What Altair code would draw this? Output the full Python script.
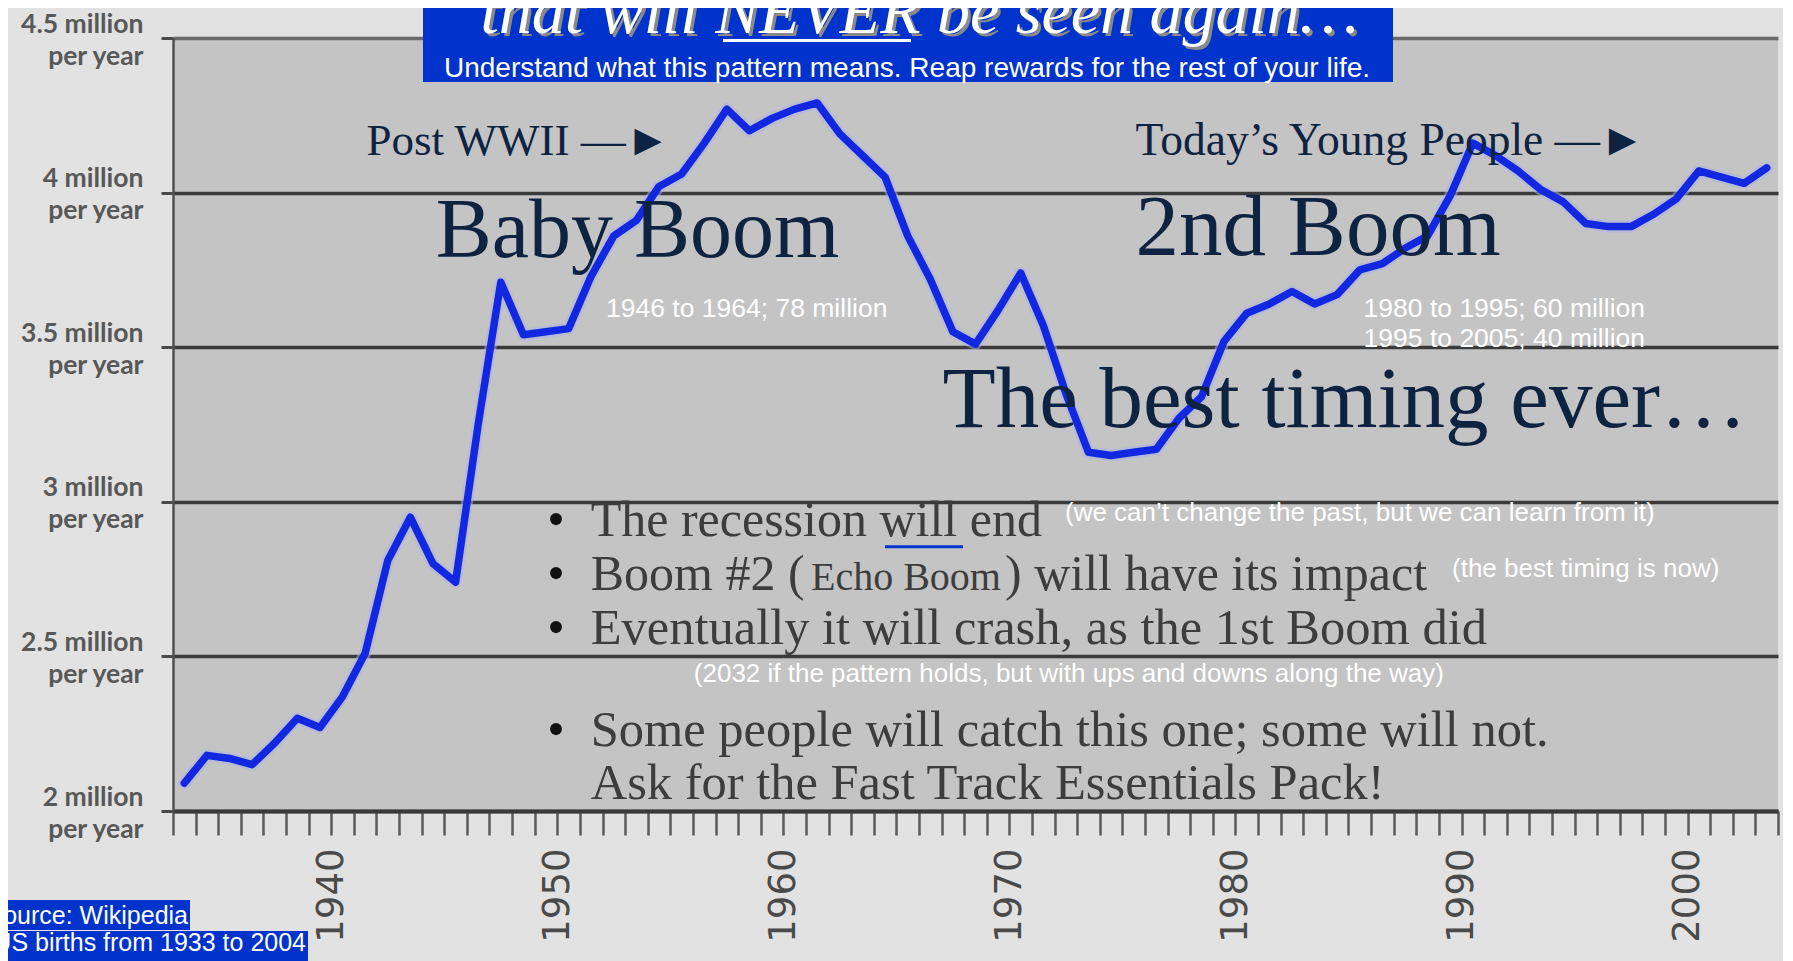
import altair as alt
import pandas as pd

# ---------------- data ----------------
years = list(range(1933, 2004))
births = [2.09, 2.18, 2.17, 2.15, 2.22, 2.30, 2.27, 2.37, 2.51, 2.81,
          2.95, 2.80, 2.74, 3.25, 3.71, 3.54, 3.55, 3.56, 3.73, 3.86,
          3.91, 4.02, 4.06, 4.16, 4.27, 4.20, 4.24, 4.27, 4.29, 4.19,
          4.12, 4.05, 3.86, 3.72, 3.55, 3.51, 3.62, 3.74, 3.57, 3.35,
          3.16, 3.15, 3.16, 3.17, 3.27, 3.34, 3.52, 3.61, 3.64, 3.68,
          3.64, 3.67, 3.75, 3.77, 3.82, 3.86, 3.99, 4.16, 4.12, 4.07,
          4.01, 3.97, 3.90, 3.89, 3.89, 3.93, 3.98, 4.07, 4.05, 4.03,
          4.08]
y_ticks = [2, 2.5, 3, 3.5, 4, 4.5]
x_ticks = list(range(1933, 2005))

title_main = "that will NEVER be seen again…"
title_sub = "Understand what this pattern means. Reap rewards for the rest of your life."
source_lines = ["Source: Wikipedia", "US births from 1933 to 2004"]

df = pd.DataFrame({"year": years, "births": births})
dummy = pd.DataFrame({"k": [0]})

NAVY = "#0e2342"
GREY_TXT = "#3d3d3d"
BLUE_BOX = "#0033cc"

X = alt.X("xpos:Q",
          scale=alt.Scale(domain=[1933, 2004], nice=False, zero=False),
          axis=alt.Axis(values=x_ticks,
                        labelExpr="datum.value % 10 == 0 ? toString(datum.value) : ''",
                        labelAngle=270, labelFont="DejaVu Sans", labelFontSize=37,
                        labelColor="#4a4a4a", labelPadding=13, labelOverlap=False,
                        labelFlush=False, tickSize=24, tickWidth=2.5,
                        tickColor="#5a5a5a", domainColor="#3a3a3a", domainWidth=4,
                        grid=False, title=None))
Y = alt.Y("births:Q",
          scale=alt.Scale(domain=[2, 4.5], nice=False, zero=False),
          axis=alt.Axis(values=y_ticks,
                        labelExpr="[datum.value + ' million', 'per year']",
                        labelFont="Lato", labelFontWeight="bold", labelFontSize=26.5,
                        labelColor="#585858", labelLineHeight=32, labelPadding=18,
                        labelBaseline="middle", labelOffset=-14,
                        tickSize=12, tickWidth=3, tickColor="#4a4a4a",
                        domainColor="#505050", domainWidth=2.5,
                        grid=True, gridWidth=3.5,
                        gridColor={"condition": {"test": "datum.value == 4.5", "value": "#6a6a6a"},
                                   "value": "#3a3a3a"},
                        title=None))

base = alt.Chart(df).transform_calculate(xpos="datum.year + 0.5").encode(x=X, y=Y)
halo = base.mark_line(color="#aab2ea", strokeWidth=12, opacity=0.5,
                      strokeCap="round", strokeJoin="round")
line = base.mark_line(color="#1228e0", strokeWidth=7.5,
                      strokeCap="round", strokeJoin="round")


def txt(s, x, y, size, color, font="Liberation Serif", align="left",
        style="normal", weight="normal"):
    return alt.Chart(dummy).mark_text(
        text=s, align=align, baseline="alphabetic", font=font, fontSize=size,
        color=color, fontStyle=style, fontWeight=weight
    ).encode(x=alt.value(x), y=alt.value(y))


def rect(x1, x2, y1, y2, color):
    return alt.Chart(dummy).mark_rect(color=color).encode(
        x=alt.value(x1), x2=alt.value(x2), y=alt.value(y1), y2=alt.value(y2))


def rule(x1, x2, y, color, w):
    return alt.Chart(dummy).mark_rule(color=color, strokeWidth=w).encode(
        x=alt.value(x1), x2=alt.value(x2), y=alt.value(y))


SANS = "Liberation Sans"
layers = [
    halo, line,
    # title box
    rect(250, 1220, -30, 44, BLUE_BOX),
    txt(title_main, 749.5, -2.5, 66, "#8a8a8a", align="center", style="italic"),
    txt(title_main, 746.5, -5.5, 66, "white", align="center", style="italic"),
    rule(550, 738, 2.5, "white", 3),
    txt(title_sub, 734, 39, 28, "white", font=SANS, align="center"),
    # headings
    txt("Post WWII —►", 193.5, 117, 45, NAVY),
    txt("Baby Boom", 262.7, 218.7, 84, NAVY),
    txt("1946 to 1964; 78 million", 433, 279, 26.5, "white", font=SANS),
    txt("Today’s Young People —►", 962.6, 117, 45.5, NAVY),
    txt("2nd Boom", 962.6, 217, 87, NAVY),
    txt("1980 to 1995; 60 million", 1190.6, 279.3, 26.5, "white", font=SANS),
    txt("1995 to 2005; 40 million", 1190.6, 309, 26.5, "white", font=SANS),
    txt("The best timing ever…", 769.5, 388.7, 87, NAVY),
    # bullets
    txt("•", 383, 498, 50, "#111111", align="center"),
    txt("The recession will end", 417.7, 498, 50, GREY_TXT),
    rule(712, 790, 508.8, BLUE_BOX, 3),
    txt("(we can’t change the past, but we can learn from it)", 892, 482.7, 26,
        "white", font=SANS),
    txt("•", 383, 552, 50, "#111111", align="center"),
    txt("Boom #2 (", 417.7, 552, 50, GREY_TXT),
    txt("Echo Boom", 638, 552, 40, GREY_TXT),
    txt(") will have its impact", 832, 552, 50, GREY_TXT),
    txt("(the best timing is now)", 1279, 538.6, 26, "white", font=SANS),
    txt("•", 383, 606.4, 50, "#111111", align="center"),
    txt("Eventually it will crash, as the 1st Boom did", 417.7, 606.4, 50.5, GREY_TXT),
    txt("(2032 if the pattern holds, but with ups and downs along the way)", 520.8, 643.7,
        26, "white", font=SANS),
    txt("•", 383, 708, 50, "#111111", align="center"),
    txt("Some people will catch this one; some will not.", 417.7, 708, 50.5, GREY_TXT),
    txt("Ask for the Fast Track Essentials Pack!", 417.7, 760.6, 50.5, GREY_TXT),
    # source boxes
    rect(-165, 17, 862, 892, BLUE_BOX),
    txt(source_lines[0], 15, 886, 25, "white", font=SANS, align="right"),
    rect(-165, 135, 893, 925, BLUE_BOX),
    txt(source_lines[1], 133, 913, 25, "white", font=SANS, align="right"),
]

chart = alt.layer(*layers).properties(
    width=1605, height=773,
    padding={"left": 165, "top": 30, "right": 5, "bottom": 150},
    autosize=alt.AutoSizeParams(type="none"),
    background="#e2e2e2",
).configure_view(fill="#c4c4c4", strokeWidth=0)

chart.save("out.html", embed_options={"renderer": "svg", "actions": False})
